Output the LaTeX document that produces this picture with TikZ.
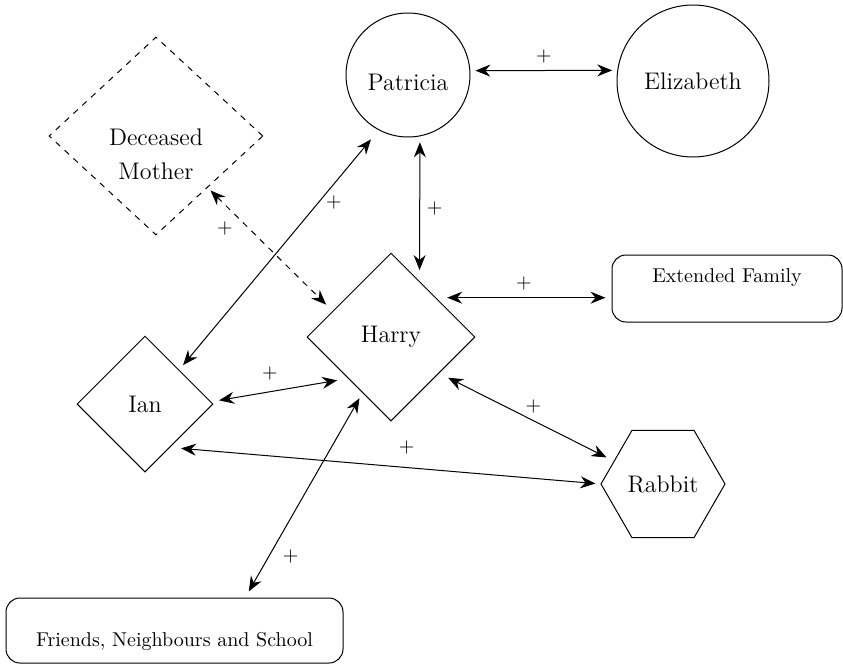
\documentclass[tikz,border=0pt]{standalone}
\usepackage{tikz}
\usetikzlibrary{arrows.meta,positioning,shapes}

\begin{document}
\begin{tikzpicture}[x=0.5pt,y=-0.5pt,line width=0.5pt,
  circ/.style={draw,circle,inner sep=0pt,font=\large},
  dia/.style={draw,diamond,inner sep=0pt,font=\large},
  grp/.style={draw,rectangle,rounded corners=7pt,inner sep=0pt},
  rel/.style={{Stealth[length=7.5pt,width=6pt,inset=2.5pt]}-{Stealth[length=7.5pt,width=6pt,inset=2.5pt]},shorten <=3pt,shorten >=3pt}]
\useasboundingbox (0,0) rectangle (843,665);
\node[circ,minimum size=62pt,text height=15pt,text depth=0pt] (patricia) at (408,75) {Patricia};
\node[circ,minimum size=76pt] (elizabeth) at (693,81) {Elizabeth};
\node[dia,dashed,minimum width=107pt,minimum height=99pt,
  label={[align=center,font=\large,yshift=-9pt]center:Deceased\\[3pt]Mother}] (mother) at (156,136) {};
\node[dia,minimum width=84pt,minimum height=84pt] (harry) at (391,337) {Harry};
\node[dia,minimum width=68pt,minimum height=68pt] (ian) at (145,404) {Ian};
\node[draw,regular polygon,regular polygon sides=6,minimum size=62pt,inner sep=0pt,font=\large] (rabbit) at (663,484) {Rabbit};
\node[grp,minimum width=115pt,text height=13.5pt,text depth=20pt] (extended) at (727,288.5) {Extended Family};
\node[grp,minimum width=168.5pt,text height=24pt,text depth=8.5pt] (friends) at (174.5,630.5) {Friends, Neighbours and School};
% relations
\draw[rel,shorten <=2.5pt,shorten >=2.5pt] (patricia.4) -- node[above] {+} (elizabeth.172);
\draw[rel,shorten >=5.5pt] (patricia.-79) -- node[right] {+} (harry.63);
\draw[rel,shorten <=6pt] (patricia.-118) -- node[pos=0.3,right] {+} (ian.45);
\draw[rel,dashed,shorten <=2pt,shorten >=4.5pt] (mother.-45) -- node[pos=0.33,left=4.5pt] {+} (harry.156);
\draw[rel,shorten <=5.5pt] (harry.41) -- node[above] {+} (harry.41 -| extended.west);
\draw[rel,shorten <=4pt,shorten >=5.5pt] (ian.2) -- node[pos=0.43,above=2pt] {+} (harry.224);
\draw[rel,shorten <=5pt,shorten >=4pt] (harry.-37) -- node[pos=0.54,above] {+} (rabbit.155);
\draw[rel,shorten <=5.5pt,shorten >=2.5pt] (ian.-60) -- node[pos=0.55,above=3pt] {+} (rabbit.west);
\draw[rel,shorten >=3.5pt] (harry.-117) -- node[pos=0.8,right=3.5pt] {+} (friends.25);
\end{tikzpicture}
\end{document}
